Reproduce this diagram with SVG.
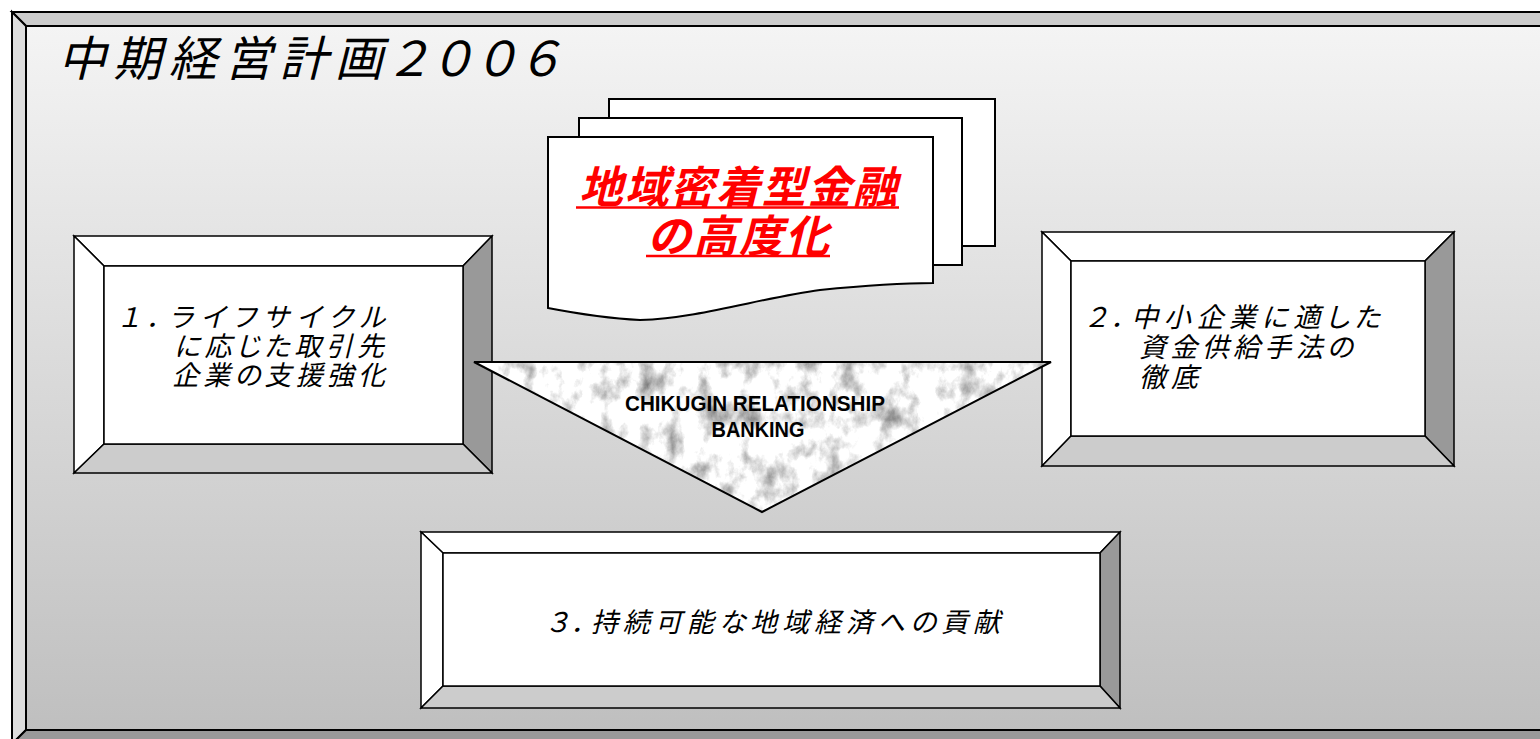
<svg xmlns="http://www.w3.org/2000/svg" width="1540" height="739" viewBox="0 0 1540 739">
<defs>
<linearGradient id="bg" x1="0" y1="26" x2="0" y2="730" gradientUnits="userSpaceOnUse">
<stop offset="0" stop-color="#f4f4f4"/>
<stop offset="1" stop-color="#bfbfbf"/>
</linearGradient>
<filter id="marble" filterUnits="userSpaceOnUse" x="470" y="358" width="586" height="160" color-interpolation-filters="sRGB">
<feTurbulence type="fractalNoise" baseFrequency="0.05 0.035" numOctaves="5" seed="11"/>
<feColorMatrix type="matrix" values="1.1 0 0 0 0.42  1.1 0 0 0 0.42  1.1 0 0 0 0.42  0 0 0 0 1"/>
</filter>
<clipPath id="triClip"><polygon points="474,362 1051,362 762,512"/></clipPath>
<style>
.ln{stroke:#000;stroke-width:1.5;stroke-linejoin:miter}
.fr{stroke:#000;stroke-width:2}
.hi{fill:#ffffff}
.dk{fill:#999999}
.md{fill:#cccccc}
.jp{font-family:"Noto Sans CJK JP","Noto Sans",sans-serif;font-style:italic;fill:#000;font-feature-settings:"palt"}
.bx{font-size:27px}
.pg{fill:#fff;stroke:#000;stroke-width:2}
.red{font-family:"Noto Sans CJK JP","Noto Sans",sans-serif;font-style:italic;font-weight:bold;font-size:44px;fill:#ff0000}
.en{font-family:"Liberation Sans Narrow","Liberation Sans",Arial,sans-serif;font-weight:bold;font-size:22px;fill:#000}
</style>
</defs>
<rect width="1540" height="739" fill="#fff"/>
<g id="frame">
<polygon class="fr" points="12,12 1556,12 1542,26 26,26" fill="#cccccc"/>
<polygon class="fr" points="12,12 26,26 26,730 12,744" fill="#dddddd"/>
<polygon class="fr" points="12,744 26,730 1542,730 1556,744" fill="#999999"/>
<rect class="fr" x="26" y="26" width="1516" height="704" fill="url(#bg)"/>
</g>
<g id="title">
<text class="jp" x="58" y="76" font-size="48" textLength="500" lengthAdjust="spacing">中期経営計画２００６</text>
</g>
<g id="documents">
<rect class="pg" x="609" y="99" width="386" height="147"/>
<rect class="pg" x="579" y="118" width="383" height="147"/>
<path class="pg" d="M548,308 L548,137 L933,137 L933,283 C905,283 870,285 820,290 C760,298 700,318 640,320 Q600,318 548,308 Z"/>
<text class="red" x="738" y="203" text-anchor="middle" textLength="318" lengthAdjust="spacing">地域密着型金融</text>
<text class="red" x="738" y="252" text-anchor="middle" textLength="182" lengthAdjust="spacing">の高度化</text>
<line x1="576" y1="207.5" x2="899" y2="207.5" stroke="#ff0000" stroke-width="2.6"/>
<line x1="646" y1="256" x2="830" y2="256" stroke="#ff0000" stroke-width="2.6"/>
</g>
<g id="box1">
<polygon class="ln hi" points="74,236 492,236 463,266 104,266"/>
<polygon class="ln hi" points="74,236 104,266 104,444 74,473"/>
<polygon class="ln dk" points="492,236 492,473 463,444 463,266"/>
<polygon class="ln md" points="74,473 104,444 463,444 492,473"/>
<rect class="ln hi" x="104" y="266" width="359" height="178"/>
<text class="jp bx" x="119" y="327" textLength="266" lengthAdjust="spacing">１．ライフサイクル</text>
<text class="jp bx" x="174" y="356" textLength="210" lengthAdjust="spacing">に応じた取引先</text>
<text class="jp bx" x="172" y="385" textLength="213" lengthAdjust="spacing">企業の支援強化</text>
</g>
<g id="box2">
<polygon class="ln hi" points="1042,232 1454,232 1425,261 1071,261"/>
<polygon class="ln hi" points="1042,232 1071,261 1071,436 1042,466"/>
<polygon class="ln dk" points="1454,232 1454,466 1425,436 1425,261"/>
<polygon class="ln md" points="1042,466 1071,436 1425,436 1454,466"/>
<rect class="ln hi" x="1071" y="261" width="354" height="175"/>
<text class="jp bx" x="1086" y="327" textLength="294" lengthAdjust="spacing">２．中小企業に適した</text>
<text class="jp bx" x="1139" y="357" textLength="214" lengthAdjust="spacing">資金供給手法の</text>
<text class="jp bx" x="1139" y="387" textLength="59" lengthAdjust="spacing">徹底</text>
</g>
<g id="box3">
<polygon class="ln hi" points="421,532 1120,532 1100,553 443,553"/>
<polygon class="ln hi" points="421,532 443,553 443,686 421,708"/>
<polygon class="ln dk" points="1120,532 1120,708 1100,686 1100,553"/>
<polygon class="ln md" points="421,708 443,686 1100,686 1120,708"/>
<rect class="ln hi" x="443" y="553" width="657" height="133"/>
<text class="jp bx" x="547" y="632" textLength="453" lengthAdjust="spacing">３．持続可能な地域経済への貢献</text>
</g>
<g id="triangle">
<rect x="470" y="358" width="586" height="160" filter="url(#marble)" clip-path="url(#triClip)"/>
<polygon points="474,362 1051,362 762,512" fill="none" stroke="#000" stroke-width="2"/>
<text class="en" x="755" y="411" text-anchor="middle" textLength="260" lengthAdjust="spacingAndGlyphs">CHIKUGIN RELATIONSHIP</text>
<text class="en" x="758" y="437" text-anchor="middle" textLength="93" lengthAdjust="spacingAndGlyphs">BANKING</text>
</g>
<g id="connectors"/>
</svg>
